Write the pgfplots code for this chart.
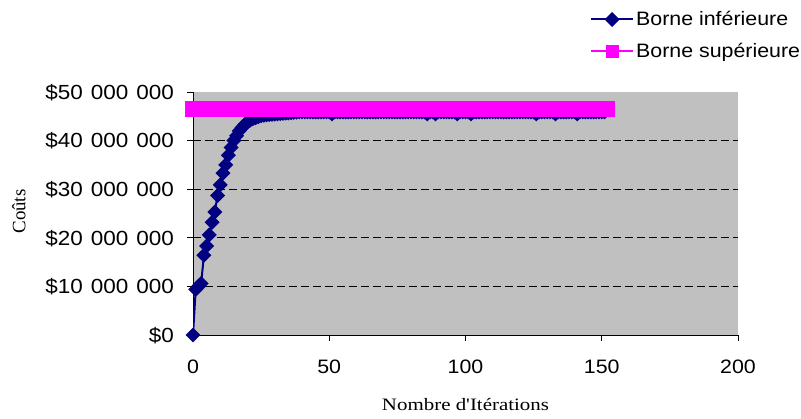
\documentclass[border=0pt]{standalone}
\usepackage{fontspec}
\setmainfont{Liberation Serif}
\newfontfamily\arial[FakeStretch=1.1]{Liberation Sans}
\newfontfamily\timesx[FakeStretch=1.2]{Liberation Serif}
\newfontfamily\timesy{Liberation Serif}
\usepackage{pgfplots}
\pgfplotsset{compat=1.18}
\usepackage{pgfplotstable}
\definecolor{navyb}{HTML}{000080}
\definecolor{magb}{HTML}{FF00FF}
\definecolor{plotgray}{HTML}{C0C0C0}
\newcommand\ksep{\hspace{8bp}}

\pgfplotstableread[row sep=\\]{
x y\\
0 0\\ 1 9400000\\ 2 10000000\\ 3 10600000\\ 4 16400000\\ 5 18300000\\ 6 20600000\\ 7 23200000\\ 8 25300000\\ 9 28700000\\
10 30900000\\ 11 33300000\\ 12 35000000\\ 13 37000000\\ 14 38600000\\ 15 40000000\\ 16 41000000\\ 17 42000000\\ 18 42700000\\ 19 43300000\\
20 43800000\\ 21 44200000\\ 22 44500000\\ 23 44700000\\ 24 44900000\\ 25 45100000\\ 26 45200000\\ 27 45300000\\ 28 45350000\\ 29 45400000\\
30 45450000\\ 31 45500000\\ 32 45550000\\ 33 45600000\\ 34 45650000\\ 35 45700000\\ 36 45750000\\ 37 45800000\\ 38 45850000\\ 39 45900000\\
40 45900000\\ 41 45900000\\ 42 45900000\\ 43 45900000\\ 44 45900000\\ 45 45900000\\ 46 45900000\\ 47 45900000\\ 48 45900000\\ 49 45900000\\
50 45900000\\ 51 45500000\\ 52 45900000\\ 53 45900000\\ 54 45900000\\ 55 45900000\\ 56 45900000\\ 57 45900000\\ 58 45900000\\ 59 45900000\\
60 45900000\\ 61 45900000\\ 62 45900000\\ 63 45900000\\ 64 45900000\\ 65 45900000\\ 66 45900000\\ 67 45900000\\ 68 45900000\\ 69 45900000\\
70 45900000\\ 71 45900000\\ 72 45900000\\ 73 45900000\\ 74 45900000\\ 75 45900000\\ 76 45900000\\ 77 45900000\\ 78 45900000\\ 79 45900000\\
80 45900000\\ 81 45900000\\ 82 45900000\\ 83 45900000\\ 84 45900000\\ 85 45900000\\ 86 45500000\\ 87 45900000\\ 88 45900000\\ 89 45500000\\
90 45900000\\ 91 45900000\\ 92 45900000\\ 93 45900000\\ 94 45900000\\ 95 45900000\\ 96 45900000\\ 97 45500000\\ 98 45900000\\ 99 45900000\\
100 45900000\\ 101 45900000\\ 102 45500000\\ 103 45900000\\ 104 45900000\\ 105 45900000\\ 106 45900000\\ 107 45900000\\ 108 45900000\\ 109 45900000\\
110 45900000\\ 111 45900000\\ 112 45900000\\ 113 45900000\\ 114 45900000\\ 115 45900000\\ 116 45900000\\ 117 45900000\\ 118 45900000\\ 119 45900000\\
120 45900000\\ 121 45900000\\ 122 45900000\\ 123 45900000\\ 124 45900000\\ 125 45900000\\ 126 45500000\\ 127 45900000\\ 128 45900000\\ 129 45900000\\
130 45900000\\ 131 45900000\\ 132 45900000\\ 133 45500000\\ 134 45900000\\ 135 45900000\\ 136 45900000\\ 137 45900000\\ 138 45900000\\ 139 45900000\\
140 45900000\\ 141 45500000\\ 142 45900000\\ 143 45900000\\ 144 45900000\\ 145 45900000\\ 146 45900000\\ 147 45900000\\ 148 45900000\\ 149 45900000\\
150 45900000\\ 151 45900000\\
}\lowerbound

\pgfplotstableread[row sep=\\]{
x y\\
0 46500000\\ 1 46500000\\ 2 46500000\\ 3 46500000\\ 4 46500000\\ 5 46500000\\ 6 46500000\\ 7 46500000\\ 8 46500000\\ 9 46500000\\
10 46500000\\ 11 46500000\\ 12 46500000\\ 13 46500000\\ 14 46500000\\ 15 46500000\\ 16 46500000\\ 17 46500000\\ 18 46500000\\ 19 46500000\\
20 46500000\\ 21 46500000\\ 22 46500000\\ 23 46500000\\ 24 46500000\\ 25 46500000\\ 26 46500000\\ 27 46500000\\ 28 46500000\\ 29 46500000\\
30 46500000\\ 31 46500000\\ 32 46500000\\ 33 46500000\\ 34 46500000\\ 35 46500000\\ 36 46500000\\ 37 46500000\\ 38 46500000\\ 39 46500000\\
40 46500000\\ 41 46500000\\ 42 46500000\\ 43 46500000\\ 44 46500000\\ 45 46500000\\ 46 46500000\\ 47 46500000\\ 48 46500000\\ 49 46500000\\
50 46500000\\ 51 46500000\\ 52 46500000\\ 53 46500000\\ 54 46500000\\ 55 46500000\\ 56 46500000\\ 57 46500000\\ 58 46500000\\ 59 46500000\\
60 46500000\\ 61 46500000\\ 62 46500000\\ 63 46500000\\ 64 46500000\\ 65 46500000\\ 66 46500000\\ 67 46500000\\ 68 46500000\\ 69 46500000\\
70 46500000\\ 71 46500000\\ 72 46500000\\ 73 46500000\\ 74 46500000\\ 75 46500000\\ 76 46500000\\ 77 46500000\\ 78 46500000\\ 79 46500000\\
80 46500000\\ 81 46500000\\ 82 46500000\\ 83 46500000\\ 84 46500000\\ 85 46500000\\ 86 46500000\\ 87 46500000\\ 88 46500000\\ 89 46500000\\
90 46500000\\ 91 46500000\\ 92 46500000\\ 93 46500000\\ 94 46500000\\ 95 46500000\\ 96 46500000\\ 97 46500000\\ 98 46500000\\ 99 46500000\\
100 46500000\\ 101 46500000\\ 102 46500000\\ 103 46500000\\ 104 46500000\\ 105 46500000\\ 106 46500000\\ 107 46500000\\ 108 46500000\\ 109 46500000\\
110 46500000\\ 111 46500000\\ 112 46500000\\ 113 46500000\\ 114 46500000\\ 115 46500000\\ 116 46500000\\ 117 46500000\\ 118 46500000\\ 119 46500000\\
120 46500000\\ 121 46500000\\ 122 46500000\\ 123 46500000\\ 124 46500000\\ 125 46500000\\ 126 46500000\\ 127 46500000\\ 128 46500000\\ 129 46500000\\
130 46500000\\ 131 46500000\\ 132 46500000\\ 133 46500000\\ 134 46500000\\ 135 46500000\\ 136 46500000\\ 137 46500000\\ 138 46500000\\ 139 46500000\\
140 46500000\\ 141 46500000\\ 142 46500000\\ 143 46500000\\ 144 46500000\\ 145 46500000\\ 146 46500000\\ 147 46500000\\ 148 46500000\\ 149 46500000\\
150 46500000\\ 151 46500000\\ 152 46500000\\
}\upperbound

\begin{document}
\begin{tikzpicture}
\useasboundingbox (0,0) rectangle (801bp,419bp);
\begin{axis}[
  at={(193bp,84bp)}, anchor=south west,
  scale only axis, width=545bp, height=243bp,
  xmin=0, xmax=200, ymin=0, ymax=50000000,
  axis lines*=left,
  axis line style={black, line width=0.8bp},
  axis background/.style={fill=plotgray},
  xtick={0,50,100,150,200},
  ytick={0,10000000,20000000,30000000,40000000,50000000},
  yticklabels={\$0,\$10\ksep000\ksep000,\$20\ksep000\ksep000,\$30\ksep000\ksep000,\$40\ksep000\ksep000,\$50\ksep000\ksep000},
  scaled y ticks=false,
  tick align=outside,
  major tick length=6bp,
  tick style={black, line width=0.8bp},
  /pgf/number format/assume math mode=true,
  ticklabel style={font=\arial\fontsize{19.5}{23}\selectfont, inner sep=0pt},
  yticklabel style={font=\arial\fontsize{20.5}{24}\selectfont, anchor=base east, xshift=-13bp, yshift=-7.3bp},
  xticklabel style={anchor=base, yshift=-32bp},
  extra y ticks={10000000,20000000,30000000,40000000},
  extra y tick labels={},
  extra y tick style={ymajorgrids=true, major tick length=0pt},
  grid style={black, dash pattern=on 8bp off 4bp, line width=0.8bp},
  xlabel={Nombre d'Itérations},
  xlabel style={at={(axis description cs:0.5,-0.3115)}, anchor=base, font=\timesx\fontsize{17.5}{20}\selectfont, inner sep=0pt},
  legend style={at={(0.7284,1.34)}, anchor=north west, draw=none, fill=none,
    font=\arial\fontsize{19.5}{23}\selectfont, inner sep=0pt, row sep=12bp,
    /tikz/every even column/.append style={column sep=4bp}},
  legend cell align=left,
  legend image code/.code={\draw[#1, mark repeat=2, mark phase=2] plot coordinates {(0bp,0bp) (21bp,0bp) (42bp,0bp)};},
]
\addplot[navyb, line width=2bp, mark=square*, mark size=4.3bp, mark options={rotate=45, fill=navyb, draw=navyb}] table {\lowerbound};
\addlegendentry{Borne inférieure}
\addplot[magb, line width=2bp, mark=square*, mark size=7bp, mark options={fill=magb, draw=magb}, legend image post style={mark size=5.5bp}] table {\upperbound};
\addlegendentry{Borne supérieure}
\end{axis}
\node[rotate=90, inner sep=0pt, font=\timesy\fontsize{19}{22}\selectfont] at (19bp,207.5bp) {Coûts};
\end{tikzpicture}
\end{document}
